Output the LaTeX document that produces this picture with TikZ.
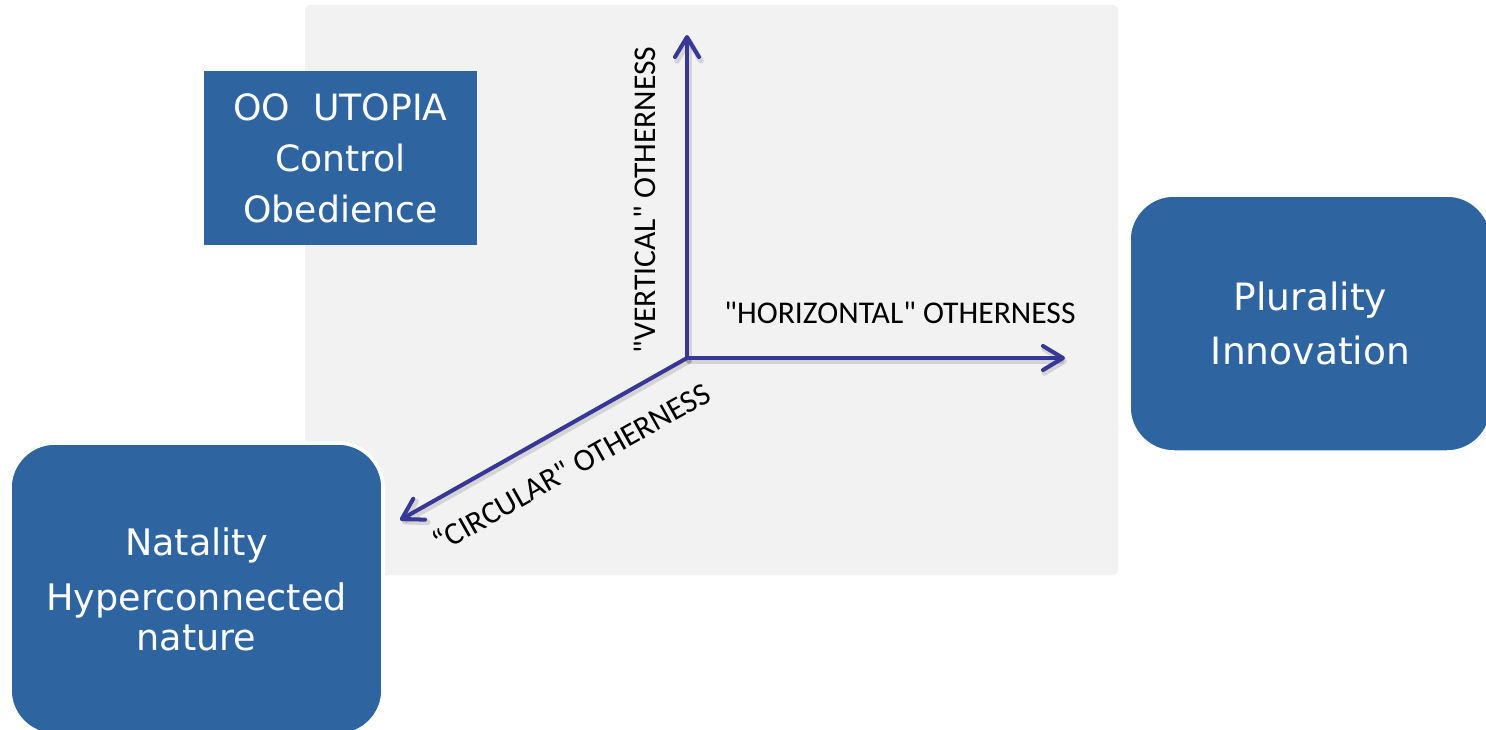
\documentclass[tikz,border=0pt]{standalone}
\usepackage{fontspec}
\setmainfont{Carlito}
\newfontfamily\boxfont{DejaVu Sans}
\usetikzlibrary{arrows.meta}

\definecolor{boxblue}{RGB}{46,101,161}
\definecolor{axisblue}{RGB}{55,55,152}
\definecolor{panelgrey}{RGB}{242,242,242}

\newcommand{\dq}{\textquotedbl}

\tikzset{
  bluebox/.style={fill=boxblue, text=white, align=center, inner sep=0pt,
    font=\boxfont\fontsize{10.3}{14.5}\selectfont},
  roundbox/.style={bluebox, rounded corners=0.45cm, draw=white, line width=1pt},
  axis/.style={draw=axisblue, line width=1.15pt, line cap=round,
    -{Straight Barb[length=2mm,width=2.4mm,round]}},
  axisshadow/.style={draw=black, opacity=0.12, line width=1.6pt, line cap=round,
    -{Straight Barb[length=2mm,width=2.4mm,round]}},
  axislabel/.style={font=\fontsize{9}{11}\selectfont, inner sep=1pt}
}

\begin{document}
\begin{tikzpicture}
    \useasboundingbox (0,0) rectangle (14.86,7.29);

    % grey panel behind the axes
    \fill[panelgrey, rounded corners=0.05cm] (3.05,1.54) rectangle (11.18,7.24);

    \node[bluebox, minimum width=2.73cm, minimum height=1.74cm] (utopia) at (3.405,5.71)
        {OO\ \ UTOPIA\\Control\\Obedience};

    \node[roundbox, minimum width=3.73cm, minimum height=2.92cm,
          font=\boxfont\fontsize{10.4}{11.4}\selectfont] (natality) at (1.965,1.40)
        {Natality\\[4.2pt]Hyperconnected\\nature};

    \node[roundbox, minimum width=3.63cm, minimum height=2.57cm,
          font=\boxfont\fontsize{10.7}{15.6}\selectfont] (plurality) at (13.105,4.055)
        {Plurality\\Innovation};

    % axes
    \coordinate (origin) at (6.87,3.71);
    \coordinate (vtip) at (6.87,6.94);
    \coordinate (htip) at (10.65,3.71);
    \coordinate (ctip) at (4.00,2.09);

    \foreach \tip in {vtip,htip,ctip}
        \draw[axisshadow] ([shift={(0.02,-0.03)}]origin) -- ([shift={(0.02,-0.03)}]\tip);
    \foreach \tip in {vtip,htip,ctip}
        \draw[axis] (origin) -- (\tip);

    \node[axislabel, rotate=90] (vlabel) at (6.45,5.29) {\dq VERTICAL\dq\ OTHERNESS};
    \node[axislabel] (hlabel) at (9.00,4.16) {\dq HORIZONTAL\dq\ OTHERNESS};
    \node[axislabel, rotate=29.4] (clabel) at (5.71,2.62) {“CIRCULAR\dq\ OTHERNESS};

\end{tikzpicture}
\end{document}
